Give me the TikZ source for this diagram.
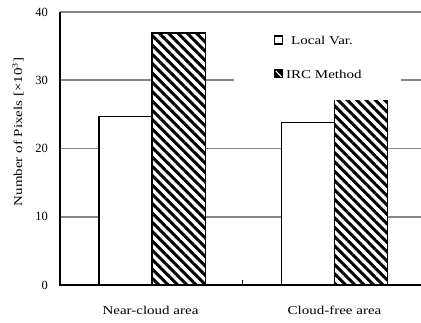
\documentclass[tikz,border=0pt]{standalone}
\usepackage{fontspec}
\setmainfont{Liberation Serif}[FakeStretch=1.25]
\newfontfamily\numfont{Liberation Serif}
\usetikzlibrary{patterns.meta}

\begin{document}
\begin{tikzpicture}[x=1pt, y=1pt,
  grid line/.style={gray!95, line width=1.5pt},
  axis line/.style={black, line width=1.5pt},
  plain bar/.style={draw=black, fill=white, line width=1.5pt},
  hatch bar/.style={draw=black, line width=1.8pt, preaction={fill=white},
    pattern={Lines[angle=-45, distance=6.6pt, line width=3pt]}},
  tick label/.style={anchor=east, inner sep=0pt, font=\numfont\fontsize{12.5}{12.5}\selectfont},
  chart text/.style={inner sep=0pt, font=\fontsize{12}{12}\selectfont}]
\useasboundingbox (0,0) rectangle (421,322);

% plot area: x in pt, y in data units
\begin{scope}[shift={(60,37)}, y=6.825pt]
  \foreach \v in {10,20,30,40}
    \draw [grid line] (0,\v) -- (361,\v);
  \foreach \v in {0,10,20,30,40}
    \node [tick label] (t\v) at (-12,\v) {\v};

  % near-cloud area
  \draw [plain bar] (39,0) rectangle (92,24.7);
  \draw [hatch bar] (92,0) rectangle (145.5,36.9);
  % cloud-free area
  \draw [plain bar] (221.5,0) rectangle (274.5,23.8);
  \draw [hatch bar] (274.5,0) rectangle (327.5,27.6);

  \draw [axis line] (0,40) -- (0,0) -- (361,0);
  \draw [axis line] (182.7,0) -- (182.7,0.75);
\end{scope}

% legend
\fill [white] (234,222) rectangle (401,302);
\draw [line width=1.4pt] (274.5,278) rectangle (282.5,286);
\fill [black] (274,243.5) rectangle (283,252.5);
\draw [white, line width=1.1pt] (275.8,251) -- (281.5,245.2);
\node [chart text, anchor=west] (local) at (291,282) {Local Var.};
\node [chart text, anchor=west] (irc) at (286,248) {IRC Method};

\node [chart text] (nearcloud) at (150.5,12) {Near-cloud area};
\node [chart text] (cloudfree) at (334.5,12) {Cloud-free area};
\node [chart text, rotate=90] (ylabel) at (18,190) {Number of Pixels [×10\textsuperscript{3}]};
\end{tikzpicture}
\end{document}
